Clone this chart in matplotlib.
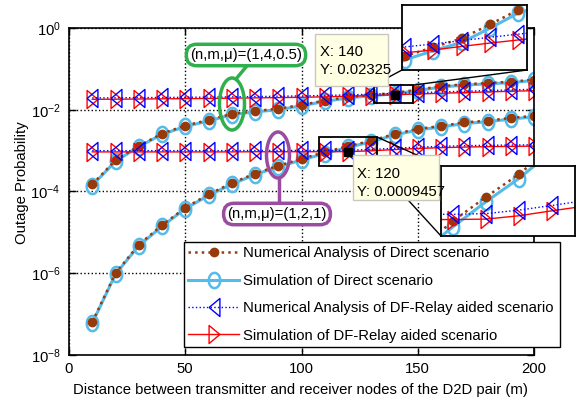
import numpy as np
import matplotlib.pyplot as plt
from matplotlib import font_manager
from matplotlib.patches import Ellipse, Rectangle
from matplotlib.lines import Line2D

# --- data ---
distance = [10, 20, 30, 40, 50, 60, 70, 80, 90, 100,
            110, 120, 130, 140, 150, 160, 170, 180, 190, 200]

# (n,m,mu) = (1,4,0.5)
num_direct_a = [1.5e-4, 5.8e-4, 1.3e-3, 2.6e-3, 4.1e-3, 5.6e-3, 7.9e-3, 9.3e-3, 1.06e-2, 1.31e-2,
                1.68e-2, 2.05e-2, 2.3e-2, 2.58e-2, 3.1e-2, 3.75e-2, 4.2e-2, 4.5e-2, 4.85e-2, 5.45e-2]
sim_direct_a = [1.4e-4, 5.5e-4, 1.25e-3, 2.5e-3, 3.9e-3, 5.3e-3, 7.6e-3, 8.9e-3, 1.0e-2, 1.25e-2,
                1.6e-2, 1.95e-2, 2.2e-2, 2.45e-2, 2.95e-2, 3.6e-2, 4.0e-2, 4.3e-2, 4.6e-2, 5.2e-2]
num_relay_a = [0.0195, 0.0196, 0.0198, 0.0200, 0.0202, 0.0204, 0.0207, 0.0210, 0.0214, 0.0218,
               0.0224, 0.0231, 0.0240, 0.0251, 0.0262, 0.0273, 0.0284, 0.0295, 0.0306, 0.0317]
sim_relay_a = [0.0180, 0.0181, 0.0183, 0.0185, 0.0187, 0.0189, 0.0192, 0.0195, 0.0198, 0.0202,
               0.0207, 0.0214, 0.0222, 0.02325, 0.0243, 0.0253, 0.0263, 0.0273, 0.0283, 0.0293]

# (n,m,mu) = (1,2,1)
num_direct_b = [6.4e-8, 1.0e-6, 5.0e-6, 1.5e-5, 4.0e-5, 8.5e-5, 1.6e-4, 2.75e-4, 4.25e-4, 6.3e-4,
                9.2e-4, 1.28e-3, 1.75e-3, 2.55e-3, 3.4e-3, 4.0e-3, 4.9e-3, 5.4e-3, 6.3e-3, 7.1e-3]
sim_direct_b = [6.0e-8, 9.5e-7, 4.7e-6, 1.4e-5, 3.8e-5, 8.0e-5, 1.5e-4, 2.6e-4, 4.0e-4, 5.9e-4,
                8.5e-4, 1.2e-3, 1.65e-3, 2.4e-3, 3.2e-3, 3.8e-3, 4.6e-3, 5.1e-3, 5.9e-3, 6.7e-3]
num_relay_b = [0.00100, 0.00100, 0.00100, 0.00100, 0.00100, 0.00100, 0.00100, 0.00101, 0.00101, 0.00101,
               0.00101, 0.00102, 0.00107, 0.00114, 0.00122, 0.00127, 0.00132, 0.00135, 0.00137, 0.00139]
sim_relay_b = [0.00093, 0.00093, 0.00093, 0.00093, 0.00093, 0.00093, 0.00093, 0.00094, 0.00094, 0.00094,
               0.00094, 0.0009457, 0.00099, 0.00106, 0.00113, 0.00118, 0.00122, 0.00125, 0.00127, 0.00129]

labels = ['Numerical Analysis of Direct scenario',
          'Simulation of Direct scenario',
          'Numerical Analysis of DF-Relay aided scenario',
          'Simulation of DF-Relay aided scenario']

tip_x = [140, 120]
tip_y = [0.02325, 0.0009457]

xticks = [0, 50, 100, 150, 200]
yticks = [1e0, 1e-2, 1e-4, 1e-6, 1e-8]
ytick_labels = ['$\\mathregular{10^{0}}$', '$\\mathregular{10^{-2}}$', '$\\mathregular{10^{-4}}$',
                '$\\mathregular{10^{-6}}$', '$\\mathregular{10^{-8}}$']

# --- fonts ---
names = {f.name for f in font_manager.fontManager.ttflist}
if 'Liberation Sans Narrow' in names:
    fam = 'Liberation Sans Narrow'
    fs = 12.8
else:
    fam = 'Liberation Sans'
    fs = 10.7
plt.rcParams['font.family'] = [fam, 'DejaVu Sans']
plt.rcParams['mathtext.fontset'] = 'custom'
plt.rcParams['mathtext.rm'] = fam
plt.rcParams['font.size'] = fs

W, H = 587, 407


def px(x, y):  # picture pixel -> figure fraction
    return x / W, 1 - y / H


brown = '#963a0c'
cyan = '#55bbea'
green = '#2fb04c'
purple = '#9a4ca0'

tri_l = [(-0.6, 0), (0.6, 1), (0.6, -1), (-0.6, 0)]
tri_r = [(0.6, 0), (-0.6, 1), (-0.6, -1), (0.6, 0)]
t = np.linspace(0, 2 * np.pi, 41)
ell = list(zip(0.75 * np.cos(t), np.sin(t)))

sty_num_d = dict(color=brown, ls=':', lw=1.8, marker='o', ms=6, mfc=brown, mec=brown)
sty_sim_d = dict(color=cyan, ls='-', lw=2.2, marker=ell, ms=11, mfc='none', mec=cyan, mew=1.8)
sty_num_r = dict(color='blue', ls=':', lw=1.0, marker=tri_l, ms=13, mfc='none', mec='blue', mew=1.0)
sty_sim_r = dict(color='red', ls='-', lw=1.0, marker=tri_r, ms=13, mfc='none', mec='red', mew=1.0)


def draw_all(a):
    a.plot(distance, sim_direct_a, **sty_sim_d)
    a.plot(distance, sim_direct_b, **sty_sim_d)
    a.plot(distance, num_direct_a, **sty_num_d)
    a.plot(distance, num_direct_b, **sty_num_d)
    a.plot(distance, sim_relay_a, **sty_sim_r)
    a.plot(distance, sim_relay_b, **sty_sim_r)
    a.plot(distance, num_relay_a, **sty_num_r)
    a.plot(distance, num_relay_b, **sty_num_r)


fig = plt.figure(figsize=(W / 100, H / 100), dpi=100)
ax = fig.add_axes([69 / W, 52 / H, 465 / W, 327 / H])
draw_all(ax)
ax.set_yscale('log')
ax.set_xlim(0, 200)
ax.set_ylim(1e-8, 1e0)
ax.set_xticks(xticks)
ax.set_yticks(yticks)
ax.set_yticklabels(ytick_labels)
ax.yaxis.set_minor_locator(plt.NullLocator())
ax.tick_params(direction='in', top=True, right=True, length=5, width=1)
ax.tick_params(axis='x', pad=5)
ax.tick_params(axis='y', pad=6)
ax.grid(True, which='major', linestyle=':', color='k', linewidth=1)
for s in ax.spines.values():
    s.set_linewidth(1.2)
ax.set_xlabel('Distance between transmitter and receiver nodes of the D2D pair (m)')
ax.set_ylabel('Outage Probability')
ax.xaxis.set_label_coords(0.497, -0.085)
ax.yaxis.set_label_coords(-0.085, 0.526)

# datatip markers
ax.plot(tip_x, tip_y, ls='none', marker='s', ms=6, color='k', zorder=6)

# zoom rectangles
ax.add_patch(Rectangle((131, 0.01462), 17, 0.0403 - 0.01462, fill=False, ec='k', lw=1.3, zorder=5))
ax.add_patch(Rectangle((107.5, 4.2e-4), 25, 2.15e-3 - 4.2e-4, fill=False, ec='k', lw=1.3, zorder=5))

# legend
handles = [Line2D([], [], **sty_num_d), Line2D([], [], **sty_sim_d),
           Line2D([], [], **sty_num_r), Line2D([], [], **sty_sim_r)]
x0, y0 = px(184, 350)
leg = ax.legend(handles, labels, loc='upper left', mode='expand',
                bbox_to_anchor=(x0, y0, 376 / W, 108 / H), bbox_transform=fig.transFigure,
                borderaxespad=0, fancybox=False, framealpha=1, edgecolor='k',
                handlelength=3.4, handletextpad=0.25, borderpad=0.3, labelspacing=0.9)
leg.get_frame().set_linewidth(1.0)

# insets
ins1 = fig.add_axes([402 / W, 337 / H, 125 / W, 65 / H])
draw_all(ins1)
ins1.set_yscale('log')
ins1.set_xlim(119, 163)
ins1.set_ylim(0.0171, 0.0399)
ins2 = fig.add_axes([441 / W, 171 / H, 134 / W, 70 / H])
draw_all(ins2)
ins2.set_yscale('log')
ins2.set_xlim(106.4, 147)
ins2.set_ylim(7.5e-4, 1.96e-3)
for a in (ins1, ins2):
    a.set_xticks([])
    a.set_yticks([])
    a.yaxis.set_minor_locator(plt.NullLocator())
    for s in a.spines.values():
        s.set_linewidth(1.3)

# connector lines
for (xa, ya), (xb, yb) in [((374, 85), (402, 70)), ((414, 85), (527, 70)),
                           ((377, 137), (441, 166)), ((377, 166), (441, 236))]:
    p1 = px(xa, ya)
    p2 = px(xb, yb)
    fig.add_artist(Line2D([p1[0], p2[0]], [p1[1], p2[1]], color='k', lw=1.0, zorder=2))

# datatip boxes
for (bx, by, bw, bh), (tx, ty), txt in [((315, 34, 73, 52), (320, 61), 'X: 140\nY: 0.02325'),
                                       ((353, 155, 86, 45), (357, 183), 'X: 120\nY: 0.0009457')]:
    fx, fy = px(bx, by + bh)
    fig.add_artist(Rectangle((fx, fy), bw / W, bh / H, transform=fig.transFigure,
                             fc='#ffffe4', ec='#c8c8c0', lw=1.0, zorder=5))
    tx, ty = px(tx, ty)
    fig.text(tx, ty, txt, ha='left', va='center', linespacing=1.3, zorder=6)

# (n,m,mu) callouts
for (cx, cy, ew, eh), (lx1, ly1, lx2, ly2), (bx, by), txt, col in [
        ((232, 104, 25, 52), (236, 79, 246, 67), (246, 55), '(n,m,\u03bc)=(1,4,0.5)', green),
        ((278, 155, 23, 46), (279, 178, 279, 200), (277, 214), '(n,m,\u03bc)=(1,2,1)', purple)]:
    ex, ey = px(cx, cy)
    fig.add_artist(Ellipse((ex, ey), ew / W, eh / H, transform=fig.transFigure,
                           fill=False, ec=col, lw=2.5, zorder=4))
    a1 = px(lx1, ly1)
    a2 = px(lx2, ly2)
    fig.add_artist(Line2D([a1[0], a2[0]], [a1[1], a2[1]], color=col, lw=2.5, zorder=4))
    tx, ty = px(bx, by)
    fig.text(tx, ty, txt, ha='center', va='center', zorder=6,
             bbox=dict(boxstyle='round,pad=0.25,rounding_size=0.7', fc='white', ec=col, lw=2.5))

fig.savefig('out.png', dpi=100)
